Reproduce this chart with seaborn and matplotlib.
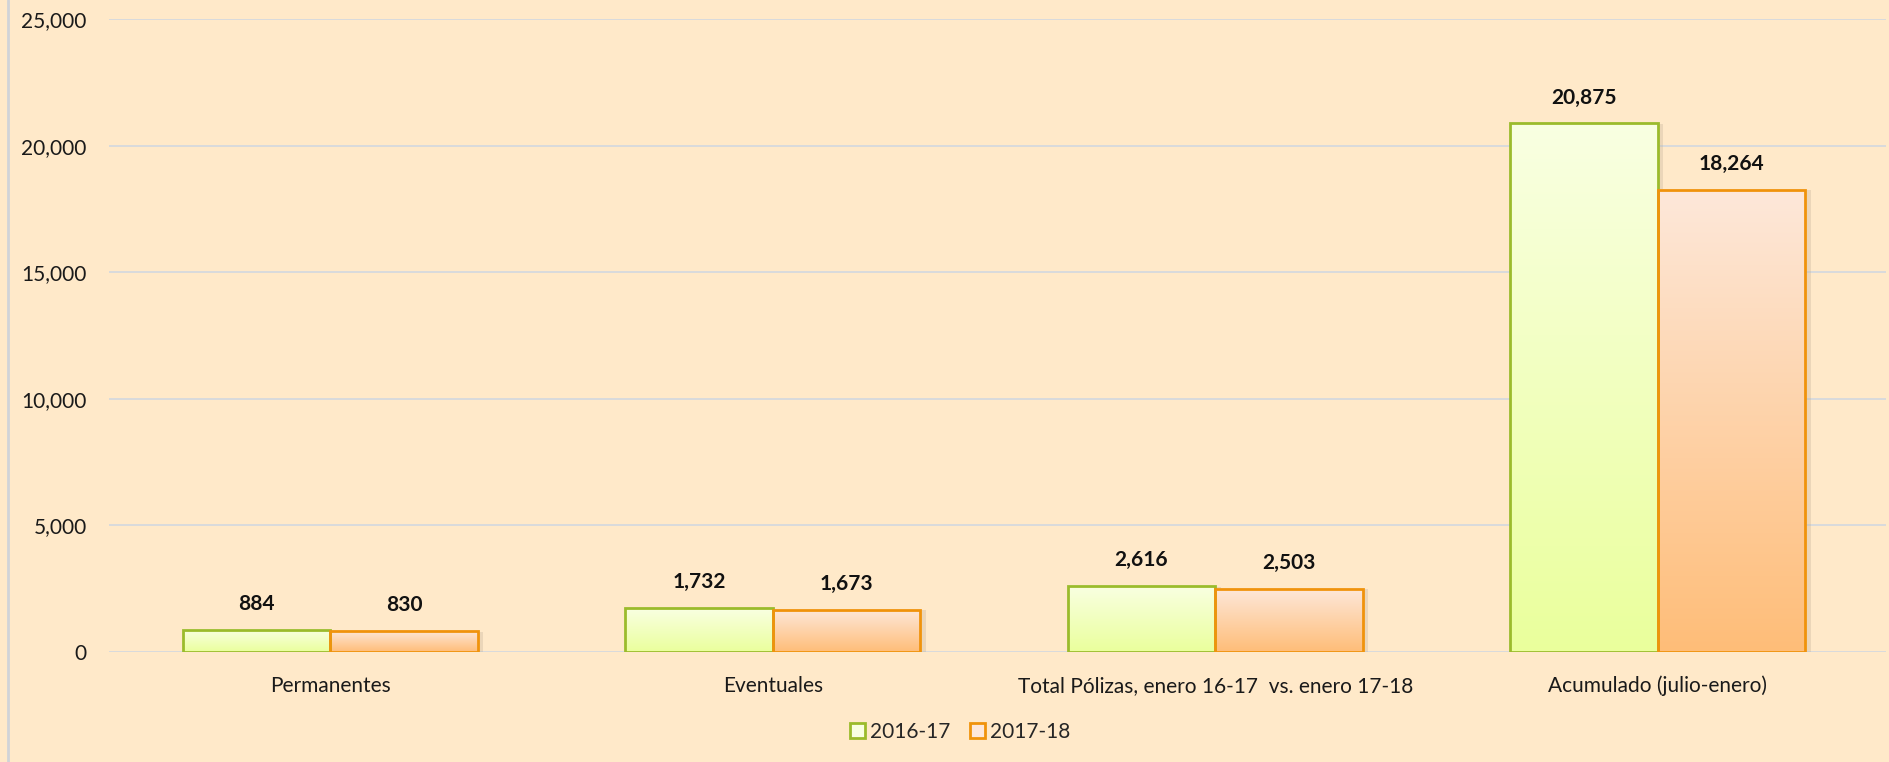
import matplotlib
matplotlib.use("Agg")
import matplotlib.pyplot as plt
import numpy as np
import pandas as pd
import seaborn as sns
from matplotlib.patches import Patch, Rectangle
from matplotlib.colors import LinearSegmentedColormap

categories = ["Permanentes", "Eventuales", "Total Pólizas, enero 16-17  vs. enero 17-18", "Acumulado (julio-enero)"]
series_names = ["2016-17", "2017-18"]
values_2016_17 = [884, 1732, 2616, 20875]
values_2017_18 = [830, 1673, 2503, 18264]
y_ticks = [0, 5000, 10000, 15000, 20000, 25000]

bg = "#FFE9C9"
edge_colors = ["#9BBB2C", "#F0930C"]
grad_top = ["#F9FFE2", "#FDE8DA"]
grad_bot = ["#EAFF9C", "#FFBD78"]

sns.set_theme(style="white")
plt.rcParams["font.family"] = ["Lato", "DejaVu Sans"]

df = pd.DataFrame({
    "cat": categories * 2,
    "serie": [series_names[0]] * 4 + [series_names[1]] * 4,
    "val": values_2016_17 + values_2017_18,
})

XMAX = 3.516

fig = plt.figure(figsize=(18.9, 7.62), dpi=100, facecolor=bg)
ax = fig.add_axes([109 / 1890, 1 - 652 / 762, (1886 - 109) / 1890, (652 - 19) / 762])
ax.set_facecolor(bg)

sns.barplot(data=df, x="cat", y="val", hue="serie", hue_order=series_names,
            palette=grad_bot, width=0.667, ax=ax, legend=False, saturation=1,
            edgecolor="none", linewidth=0)

ax.set_ylim(0, 25000)
ax.set_xlim(-0.5, XMAX)
ax.set_yticks(y_ticks)
ax.set_yticklabels([f"{v:,}" for v in y_ticks], fontsize=15, color="#1a1a1a")
ax.tick_params(axis="y", length=0, pad=16)
ax.tick_params(axis="x", length=0, pad=17, labelsize=15, colors="#1a1a1a")
ax.set_xlabel("")
ax.set_ylabel("")
ax.grid(axis="y", color="#D6D9DE", linewidth=1.3)
ax.set_axisbelow(True)
for s in ax.spines.values():
    s.set_visible(False)

patches = list(ax.patches)
n = len(categories)
for i, p in enumerate(patches):
    si = i // n
    x0, y0 = p.get_x(), p.get_y()
    w, h = p.get_width(), p.get_height()
    p.set_alpha(0)
    sh = Rectangle((x0 + 0.008, y0 - 60), w + 0.004, h + 30, facecolor="#B8A890", alpha=0.28,
                   edgecolor="none", zorder=1.5)
    ax.add_patch(sh)
    cmap = LinearSegmentedColormap.from_list("g", [grad_bot[si], grad_top[si]])
    grad = np.linspace(0, 1, 256).reshape(-1, 1)
    ax.imshow(grad, extent=(x0, x0 + w, y0, y0 + h), origin="lower", aspect="auto",
              cmap=cmap, zorder=2)
    border = Rectangle((x0, y0), w, h, facecolor="none", edgecolor=edge_colors[si],
                       linewidth=2, zorder=3)
    ax.add_patch(border)
    ax.text(x0 + w / 2, y0 + h + 620, f"{int(h):,}", ha="center", va="bottom",
            fontsize=15, fontweight="bold", color="#111111", zorder=4)

ax.set_xlim(-0.5, XMAX)
ax.set_ylim(0, 25000)
ax.set_aspect("auto")

handles = [Patch(facecolor=grad_top[i], edgecolor=edge_colors[i], linewidth=2, label=series_names[i])
           for i in range(2)]
fig.legend(handles=handles, loc="center", bbox_to_anchor=(0.508, 1 - 732 / 762), ncol=2,
           frameon=False, fontsize=15, handlelength=0.75, handleheight=0.75,
           handletextpad=0.25, columnspacing=0.9)

fig.add_artist(plt.Line2D([8 / 1890, 8 / 1890], [0, 1], color="#D0D3D8", linewidth=2,
                          transform=fig.transFigure))

fig.savefig("out.png", dpi=100, facecolor=bg)
